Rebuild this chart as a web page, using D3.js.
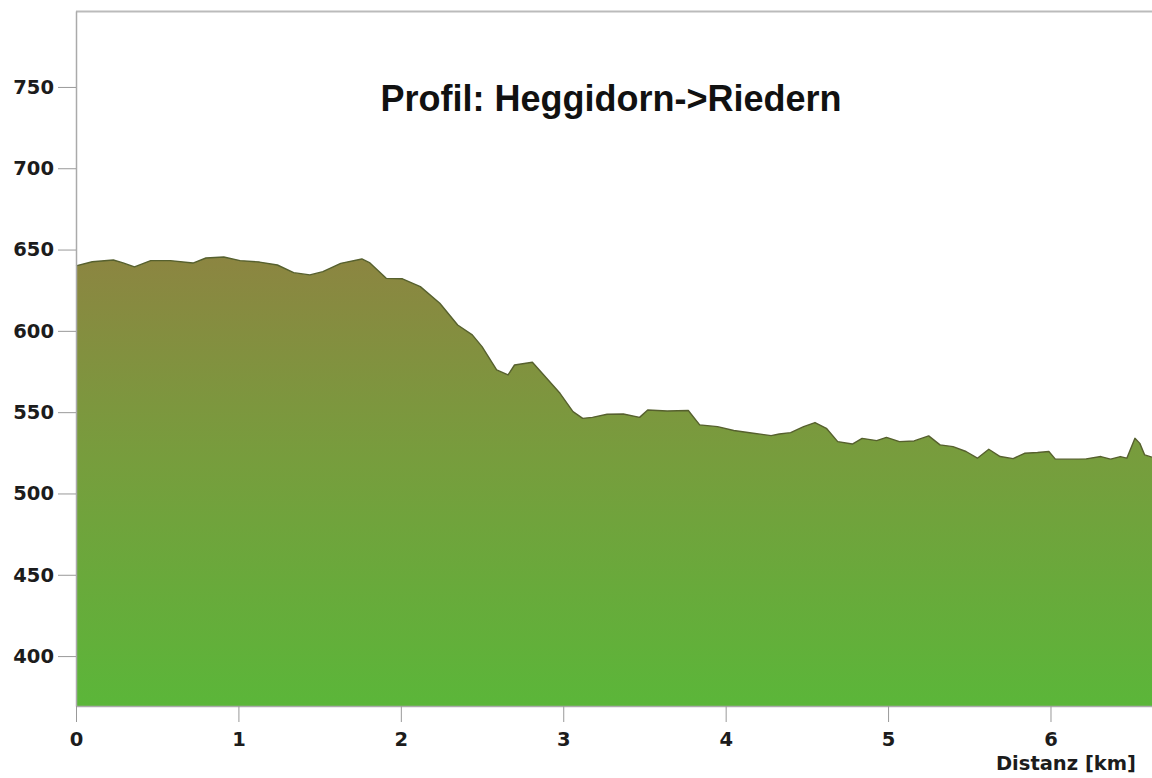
<!DOCTYPE html>
<html>
<head>
<meta charset="utf-8">
<script src="https://cdn.jsdelivr.net/npm/d3@7"></script>
<style>
  body { margin: 0; background: #fff; }
  .tick text { font-family: "DejaVu Sans", sans-serif; font-weight: bold; font-size: 19.5px; fill: #1c1c1c; }
</style>
</head>
<body>
<div id="chart"></div>
<script>
// elevation profile
var distKm = [0.00, 0.10, 0.23, 0.29, 0.36, 0.46, 0.58, 0.72, 0.80, 0.91,
  1.01, 1.13, 1.24, 1.34, 1.44, 1.52, 1.63, 1.76, 1.81, 1.91,
  2.01, 2.12, 2.24, 2.35, 2.44, 2.50, 2.59, 2.66, 2.70, 2.81,
  2.88, 2.98, 3.06, 3.12, 3.18, 3.27, 3.37, 3.47, 3.52, 3.64,
  3.77, 3.84, 3.95, 4.05, 4.17, 4.28, 4.33, 4.40, 4.48, 4.55,
  4.62, 4.69, 4.78, 4.84, 4.93, 4.99, 5.07, 5.16, 5.25, 5.32,
  5.40, 5.48, 5.55, 5.62, 5.69, 5.77, 5.84, 5.92, 5.99, 6.03,
  6.12, 6.22, 6.31, 6.37, 6.43, 6.47, 6.52, 6.55, 6.58, 6.625];
var elevM = [640, 642.5, 643.6, 641.8, 639.3, 643.2, 643.2, 641.7, 644.8, 645.4,
  643.2, 642.3, 640.5, 635.8, 634.4, 636.4, 641.5, 644.2, 641.8, 632.3,
  632, 627.2, 617, 603.6, 597.5, 590.3, 576, 572.9, 579, 580.7,
  572.9, 561.6, 550.3, 546.2, 546.8, 548.7, 548.9, 546.8, 551.3, 550.7,
  551, 542.2, 541.1, 538.7, 537, 535.6, 536.6, 537.4, 541.1, 543.6,
  540.1, 531.9, 530.4, 533.9, 532.5, 534.5, 531.9, 532.3, 535.4, 529.9,
  528.8, 525.8, 521.7, 527.2, 522.7, 521.4, 524.7, 525.2, 525.8, 521.1,
  521.1, 521.3, 522.7, 521.1, 522.7, 521.7, 533.9, 530.8, 523.7, 522.3];
var xTicks = [0, 1, 2, 3, 4, 5, 6];
var yTicks = [400, 450, 500, 550, 600, 650, 700, 750];
var title = "Profil: Heggidorn->Riedern";
var xLabel = "Distanz [km]";

var W = 1152, H = 778;
var plotL = 76, plotT = 11, plotR = 1152, plotB = 706;

var svg = d3.select("#chart").append("svg")
  .attr("width", W).attr("height", H);

var x = d3.scaleLinear().domain([0, 6.625]).range([plotL, plotR]);
var y = d3.scaleLinear().domain([369.3, 796.7]).range([plotB, plotT]);

var points = distKm.map(function(d, i){ return [d, elevM[i]]; });

var grad = svg.append("defs").append("linearGradient")
  .attr("id", "fillGrad")
  .attr("gradientUnits", "userSpaceOnUse")
  .attr("x1", 0).attr("x2", 0)
  .attr("y1", y(646)).attr("y2", plotB);
grad.append("stop").attr("offset", 0).attr("stop-color", "#8c8541");
grad.append("stop").attr("offset", 0.45).attr("stop-color", "#779d3d");
grad.append("stop").attr("offset", 1).attr("stop-color", "#5bb639");

var area = d3.area()
  .x(function(d){ return x(d[0]); })
  .y0(plotB)
  .y1(function(d){ return y(d[1]); });
var line = d3.line()
  .x(function(d){ return x(d[0]); })
  .y(function(d){ return y(d[1]); });

svg.append("path").datum(points)
  .attr("d", area)
  .attr("fill", "url(#fillGrad)");
svg.append("path").datum(points)
  .attr("d", line)
  .attr("fill", "none")
  .attr("stroke", "#56602e")
  .attr("stroke-width", 1.4)
  .attr("stroke-linejoin", "round");

// frame
svg.append("line").attr("x1", plotL).attr("x2", plotR).attr("y1", plotT + 0.5).attr("y2", plotT + 0.5)
  .attr("stroke", "#bbb").attr("stroke-width", 2);

var yAxis = svg.append("g")
  .attr("transform", "translate(" + plotL + ",0)")
  .call(d3.axisLeft(y).tickValues(yTicks).tickSize(18).tickSizeOuter(0).tickPadding(4).tickFormat(d3.format("d")));
var xAxis = svg.append("g")
  .attr("transform", "translate(0," + plotB + ")")
  .call(d3.axisBottom(x).tickValues(xTicks).tickSize(16).tickSizeOuter(0).tickPadding(10).tickFormat(d3.format("d")));

[yAxis, xAxis].forEach(function(g){
  g.select(".domain").attr("stroke", "#aaa").attr("stroke-width", 1.5);
  g.selectAll(".tick line").attr("stroke", "#999");
});

svg.append("text")
  .attr("x", 611).attr("y", 111)
  .attr("text-anchor", "middle")
  .style("font-family", "'Liberation Sans', Arial, sans-serif")
  .style("font-weight", "bold")
  .style("font-size", "36px")
  .attr("fill", "#111")
  .text(title);

svg.append("text")
  .attr("x", 1136).attr("y", 770)
  .attr("text-anchor", "end")
  .style("font-family", "'DejaVu Sans', sans-serif")
  .style("font-weight", "bold")
  .style("font-size", "19.5px")
  .attr("fill", "#1c1c1c")
  .text(xLabel);
</script>
</body>
</html>
